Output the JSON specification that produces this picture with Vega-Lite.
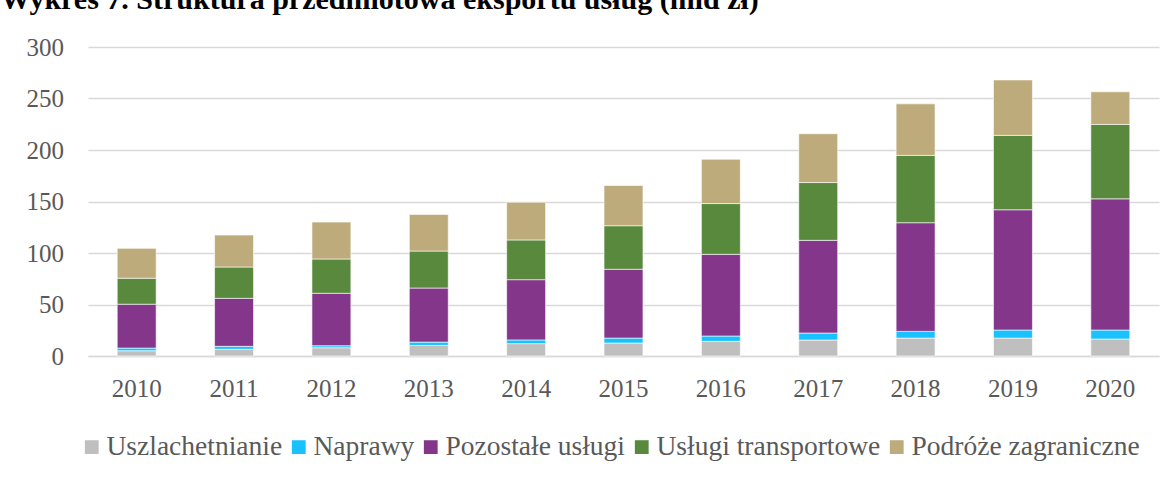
{
  "$schema": "https://vega.github.io/schema/vega-lite/v6.json",
  "autosize": {"type": "pad"},
  "padding": {"left": 0, "top": -15, "right": 15, "bottom": 20},
  "width": 1071,
  "height": 309,
  "title": {
    "text": "Wykres 7. Struktura przedmiotowa eksportu usług (mld zł)",
    "anchor": "start",
    "frame": "bounds",
    "font": "Liberation Serif",
    "fontSize": 30,
    "fontWeight": "bold",
    "color": "#000000",
    "dx": -25.5,
    "offset": 20
  },
  "datasets": {
    "kolejnosc": [
      {"kategoria": "Uszlachetnianie", "pozycja": 1},
      {"kategoria": "Naprawy", "pozycja": 2},
      {"kategoria": "Pozostałe usługi", "pozycja": 3},
      {"kategoria": "Usługi transportowe", "pozycja": 4},
      {"kategoria": "Podróże zagraniczne", "pozycja": 5}
    ],
    "eksport": [
      {"rok": "2010", "kategoria": "Uszlachetnianie", "wartosc": 5.1},
      {"rok": "2010", "kategoria": "Naprawy", "wartosc": 2.6},
      {"rok": "2010", "kategoria": "Pozostałe usługi", "wartosc": 42.6},
      {"rok": "2010", "kategoria": "Usługi transportowe", "wartosc": 25.2},
      {"rok": "2010", "kategoria": "Podróże zagraniczne", "wartosc": 29.0},
      {"rok": "2011", "kategoria": "Uszlachetnianie", "wartosc": 6.5},
      {"rok": "2011", "kategoria": "Naprawy", "wartosc": 2.9},
      {"rok": "2011", "kategoria": "Pozostałe usługi", "wartosc": 46.6},
      {"rok": "2011", "kategoria": "Usługi transportowe", "wartosc": 30.4},
      {"rok": "2011", "kategoria": "Podróże zagraniczne", "wartosc": 31.0},
      {"rok": "2012", "kategoria": "Uszlachetnianie", "wartosc": 8.0},
      {"rok": "2012", "kategoria": "Naprawy", "wartosc": 2.0},
      {"rok": "2012", "kategoria": "Pozostałe usługi", "wartosc": 50.9},
      {"rok": "2012", "kategoria": "Usługi transportowe", "wartosc": 33.3},
      {"rok": "2012", "kategoria": "Podróże zagraniczne", "wartosc": 35.8},
      {"rok": "2013", "kategoria": "Uszlachetnianie", "wartosc": 10.3},
      {"rok": "2013", "kategoria": "Naprawy", "wartosc": 3.2},
      {"rok": "2013", "kategoria": "Pozostałe usługi", "wartosc": 52.5},
      {"rok": "2013", "kategoria": "Usługi transportowe", "wartosc": 35.9},
      {"rok": "2013", "kategoria": "Podróże zagraniczne", "wartosc": 35.5},
      {"rok": "2014", "kategoria": "Uszlachetnianie", "wartosc": 12.0},
      {"rok": "2014", "kategoria": "Naprawy", "wartosc": 3.6},
      {"rok": "2014", "kategoria": "Pozostałe usługi", "wartosc": 58.5},
      {"rok": "2014", "kategoria": "Usługi transportowe", "wartosc": 38.6},
      {"rok": "2014", "kategoria": "Podróże zagraniczne", "wartosc": 36.6},
      {"rok": "2015", "kategoria": "Uszlachetnianie", "wartosc": 12.6},
      {"rok": "2015", "kategoria": "Naprawy", "wartosc": 4.8},
      {"rok": "2015", "kategoria": "Pozostałe usługi", "wartosc": 66.8},
      {"rok": "2015", "kategoria": "Usługi transportowe", "wartosc": 42.3},
      {"rok": "2015", "kategoria": "Podróże zagraniczne", "wartosc": 39.0},
      {"rok": "2016", "kategoria": "Uszlachetnianie", "wartosc": 14.2},
      {"rok": "2016", "kategoria": "Naprawy", "wartosc": 5.2},
      {"rok": "2016", "kategoria": "Pozostałe usługi", "wartosc": 79.3},
      {"rok": "2016", "kategoria": "Usługi transportowe", "wartosc": 49.3},
      {"rok": "2016", "kategoria": "Podróże zagraniczne", "wartosc": 43.0},
      {"rok": "2017", "kategoria": "Uszlachetnianie", "wartosc": 15.5},
      {"rok": "2017", "kategoria": "Naprawy", "wartosc": 6.8},
      {"rok": "2017", "kategoria": "Pozostałe usługi", "wartosc": 90.0},
      {"rok": "2017", "kategoria": "Usługi transportowe", "wartosc": 56.1},
      {"rok": "2017", "kategoria": "Podróże zagraniczne", "wartosc": 47.4},
      {"rok": "2018", "kategoria": "Uszlachetnianie", "wartosc": 17.4},
      {"rok": "2018", "kategoria": "Naprawy", "wartosc": 6.5},
      {"rok": "2018", "kategoria": "Pozostałe usługi", "wartosc": 105.5},
      {"rok": "2018", "kategoria": "Usługi transportowe", "wartosc": 65.4},
      {"rok": "2018", "kategoria": "Podróże zagraniczne", "wartosc": 50.0},
      {"rok": "2019", "kategoria": "Uszlachetnianie", "wartosc": 17.4},
      {"rok": "2019", "kategoria": "Naprawy", "wartosc": 7.8},
      {"rok": "2019", "kategoria": "Pozostałe usługi", "wartosc": 116.8},
      {"rok": "2019", "kategoria": "Usługi transportowe", "wartosc": 72.2},
      {"rok": "2019", "kategoria": "Podróże zagraniczne", "wartosc": 53.8},
      {"rok": "2020", "kategoria": "Uszlachetnianie", "wartosc": 16.5},
      {"rok": "2020", "kategoria": "Naprawy", "wartosc": 8.7},
      {"rok": "2020", "kategoria": "Pozostałe usługi", "wartosc": 127.4},
      {"rok": "2020", "kategoria": "Usługi transportowe", "wartosc": 72.2},
      {"rok": "2020", "kategoria": "Podróże zagraniczne", "wartosc": 31.7}
    ]
  },
  "data": {"name": "eksport"},
  "transform": [
    {"lookup": "kategoria", "from": {"data": {"name": "kolejnosc"}, "key": "kategoria", "fields": ["pozycja"]}}
  ],
  "mark": {"type": "bar", "stroke": "#ffffff", "strokeWidth": 1, "strokeOpacity": 0.6},
  "encoding": {
    "x": {
      "field": "rok",
      "type": "nominal",
      "scale": {"paddingInner": 0.6, "paddingOuter": 0.3},
      "axis": {
        "title": null,
        "labelAngle": 0,
        "ticks": false,
        "labelPadding": 20,
        "domainColor": "#d9d9d9",
        "domainWidth": 1.5,
        "grid": false
      }
    },
    "y": {
      "field": "wartosc",
      "type": "quantitative",
      "stack": "zero",
      "scale": {"domain": [0, 300], "nice": false},
      "axis": {
        "title": null,
        "values": [0, 50, 100, 150, 200, 250, 300],
        "ticks": false,
        "domain": false,
        "labelPadding": 24.5,
        "gridColor": "#d9d9d9",
        "gridWidth": 1.5
      }
    },
    "order": {"field": "pozycja", "type": "quantitative", "sort": "ascending"},
    "color": {
      "field": "kategoria",
      "type": "nominal",
      "sort": ["Uszlachetnianie", "Naprawy", "Pozostałe usługi", "Usługi transportowe", "Podróże zagraniczne"],
      "scale": {
        "domain": ["Uszlachetnianie", "Naprawy", "Pozostałe usługi", "Usługi transportowe", "Podróże zagraniczne"],
        "range": ["#bfbfbf", "#19c2ff", "#84378a", "#58893c", "#bdab7b"]
      },
      "legend": {
        "title": null,
        "orient": "none",
        "legendX": -10,
        "legendY": 386,
        "direction": "horizontal",
        "symbolType": "square",
        "symbolSize": 190,
        "symbolStrokeWidth": 0,
        "labelOffset": 1,
        "columnPadding": 2,
        "labelFont": "Liberation Serif",
        "labelFontSize": 27.5,
        "labelColor": "#595959",
        "labelLimit": 400
      }
    }
  },
  "config": {
    "view": {"stroke": null},
    "axis": {
      "labelFont": "Liberation Serif",
      "labelFontSize": 25,
      "labelColor": "#595959"
    },
    "legend": {
      "labelFont": "Liberation Serif"
    }
  }
}
